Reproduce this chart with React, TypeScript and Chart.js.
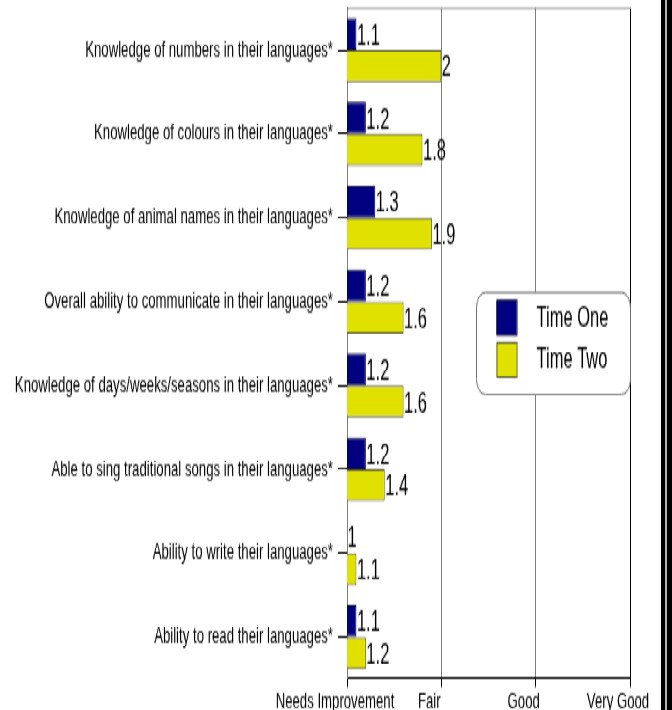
import React, { useEffect, useRef } from 'react';
import { Chart, registerables } from 'chart.js';

Chart.register(...registerables);

const categories = [
  'Knowledge of numbers in their languages*',
  'Knowledge of colours in their languages*',
  'Knowledge of animal names in their languages*',
  'Overall ability to communicate in their languages*',
  'Knowledge of days/weeks/seasons in their languages*',
  'Able to sing traditional songs in their languages*',
  'Ability to write their languages*',
  'Ability to read their languages*',
];
const timeOne = [1.1, 1.2, 1.3, 1.2, 1.2, 1.2, 1, 1.1];
const timeTwo = [2, 1.8, 1.9, 1.6, 1.6, 1.4, 1.1, 1.2];
const seriesNames = ['Time One', 'Time Two'];
const ratingLabels = ['Needs Improvement', 'Fair', 'Good', 'Very Good'];
const ratingMin = 1;
const ratingMax = 4;

const W = 672;
const H = 710;
const IH = 413;
const S = H / IH; // vertical stretch applied by CSS
const FONT = '"Liberation Sans", Arial, sans-serif';

function drawText(ctx: CanvasRenderingContext2D, text: string, x: number, y: number, k: number) {
  ctx.save();
  ctx.translate(x, y);
  ctx.scale(1, k);
  ctx.fillText(text, 0, 0);
  ctx.restore();
}

const valueLabelPlugin = {
  id: 'valueLabels',
  afterDatasetsDraw(chart: any) {
    const { ctx } = chart;
    ctx.save();
    ctx.fillStyle = '#000';
    ctx.font = `16.5px ${FONT}`;
    ctx.textAlign = 'left';
    ctx.textBaseline = 'middle';
    chart.data.datasets.forEach((ds: any, di: number) => {
      const meta = chart.getDatasetMeta(di);
      meta.data.forEach((bar: any, i: number) => {
        drawText(ctx, String(ds.data[i]), bar.x + 0.5, bar.y + 2.5 / S, 1.0);
      });
    });
    ctx.restore();
  },
};

const framePlugin = {
  id: 'frame',
  afterDraw(chart: any) {
    const { ctx, chartArea } = chart;
    ctx.save();
    ctx.strokeStyle = '#505050';
    ctx.lineWidth = 1 / S;
    ctx.beginPath();
    ctx.moveTo(chartArea.left, chartArea.top + 0.5 / S);
    ctx.lineTo(chartArea.right, chartArea.top + 0.5 / S);
    ctx.stroke();
    ctx.fillStyle = '#000';
    ctx.fillRect(661, 0, 4.3, chart.height);
    ctx.fillRect(666.7, 0, 5.3, chart.height);
    ctx.restore();
  },
};

const legendPlugin = {
  id: 'boxLegend',
  afterDraw(chart: any) {
    const { ctx, chartArea } = chart;
    const bw = 154;
    const bh = 102 / S;
    const right = chartArea.right + 0.5;
    const left = right - bw;
    const top = (chartArea.top + chartArea.bottom) / 2 - bh / 2;
    ctx.save();
    ctx.beginPath();
    ctx.roundRect(left, top, bw, bh, 9);
    ctx.fillStyle = '#fff';
    ctx.fill();
    ctx.strokeStyle = '#707070';
    ctx.lineWidth = 1;
    ctx.stroke();
    chart.data.datasets.forEach((ds: any, i: number) => {
      const sy = top + (8 + i * 42.3) / S;
      const sh = 34.5 / S;
      ctx.fillStyle = ds.backgroundColor;
      ctx.fillRect(left + 20, sy, 20, sh);
      ctx.strokeStyle = ds.borderColor;
      ctx.lineWidth = 1;
      ctx.strokeRect(left + 20.5, sy, 20, sh);
      ctx.fillStyle = '#000';
      ctx.font = `16.5px ${FONT}`;
      ctx.textAlign = 'left';
      ctx.textBaseline = 'middle';
      drawText(ctx, ds.label, left + 60, sy + sh / 2 + 1 / S, 0.95);
    });
    ctx.restore();
  },
};

export default function App() {
  const ref = useRef<HTMLCanvasElement | null>(null);

  useEffect(() => {
    if (!ref.current) return;
    const chart = new Chart(ref.current, {
      type: 'bar',
      data: {
        labels: categories,
        datasets: [
          {
            label: seriesNames[0],
            data: timeOne,
            backgroundColor: '#000080',
            borderColor: '#00003a',
            borderWidth: 1,
            categoryPercentage: 0.763,
            barPercentage: 1,
          },
          {
            label: seriesNames[1],
            data: timeTwo,
            backgroundColor: '#E1E100',
            borderColor: '#5e5e30',
            borderWidth: 1,
            categoryPercentage: 0.763,
            barPercentage: 1,
          },
        ],
      },
      options: {
        indexAxis: 'y',
        animation: false,
        responsive: false,
        maintainAspectRatio: false,
        layout: { padding: { top: 8 / S, right: 42, left: 0, bottom: 0 } },
        plugins: {
          legend: { display: false },
          tooltip: { enabled: false },
          title: { display: false },
        },
        scales: {
          x: {
            type: 'linear',
            min: ratingMin,
            max: ratingMax,
            afterFit: (s: any) => {
              s.height = IH - 679 / S;
              s.paddingLeft = 0;
              s.paddingRight = 0;
            },
            ticks: {
              stepSize: 1,
              autoSkip: false,
              maxRotation: 0,
              padding: 1,
              labelOffset: -12,
              color: '#000',
              font: { family: FONT, size: 13.2 },
              callback: (v: any) => ratingLabels[Number(v) - ratingMin] ?? '',
            },
            grid: {
              color: (c: any) => (c.tick && c.tick.value === ratingMax ? '#000' : '#808080'),
              lineWidth: 1,
              drawTicks: true,
              tickLength: 8 / S,
              tickColor: '#000',
            },
            border: { display: true, color: '#000', width: 1 },
          },
          y: {
            type: 'category',
            afterFit: (s: any) => {
              s.width = 347;
              s.paddingTop = 0;
              s.paddingBottom = 0;
            },
            ticks: {
              autoSkip: false,
              padding: 5,
              color: '#000',
              font: { family: FONT, size: 13.2 },
            },
            grid: {
              drawOnChartArea: false,
              offset: false,
              drawTicks: true,
              tickLength: 9,
              tickColor: '#000',
            },
            border: { display: true, color: '#808080', width: 1 },
          },
        },
      },
      plugins: [valueLabelPlugin, framePlugin, legendPlugin],
    } as any);
    return () => chart.destroy();
  }, []);

  return (
    <div
      style={{
        position: 'fixed',
        left: 0,
        top: 0,
        width: W,
        height: IH,
        background: '#fff',
        transform: `scaleY(${S})`,
        transformOrigin: '0 0',
      }}
    >
      <canvas ref={ref} width={W} height={IH} style={{ display: 'block', width: W, height: IH }} />
    </div>
  );
}
